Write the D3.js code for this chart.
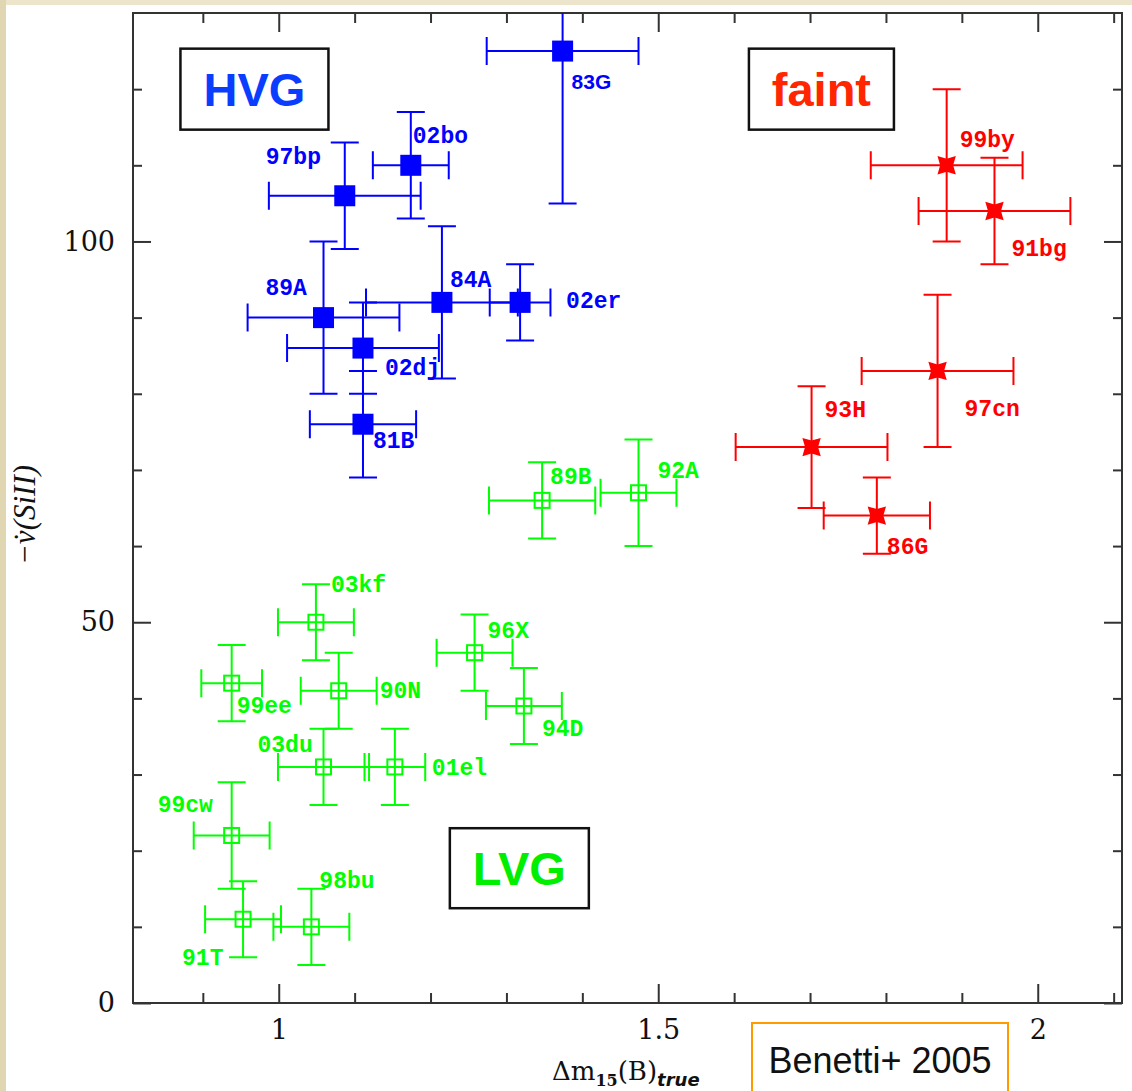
<!DOCTYPE html>
<html>
<head>
<meta charset="utf-8">
<script src="https://cdn.jsdelivr.net/npm/d3@7"></script>
<style>
  html, body { margin: 0; padding: 0; background: #ffffff; }
  svg { display: block; }
  .pt-label { font-family: "Liberation Mono", "DejaVu Sans Mono", monospace; font-weight: bold; font-size: 23px; }
  .tick text { font-family: "DejaVu Serif", serif; font-size: 27px; fill: #111; }
</style>
</head>
<body>
<svg id="chart" width="1132" height="1091"></svg>
<script>
// ---- Data: Si II velocity gradient vs decline rate (Benetti et al. 2005) ----

// High velocity gradient group
const hvgNames  = ["83G", "02bo", "97bp", "89A", "84A", "02er", "02dj", "81B"];
const hvgDm15   = [1.374, 1.174, 1.087, 1.059, 1.215, 1.318, 1.111, 1.111];
const hvgDmErr  = [0.10, 0.05, 0.10, 0.10, 0.10, 0.04, 0.10, 0.07];
const hvgVdot   = [125, 110, 106, 90, 92, 92, 86, 76];
const hvgVErr   = [20, 7, 7, 10, 10, 5, 6, 7];

// Faint group
const faintNames = ["99by", "91bg", "97cn", "93H", "86G"];
const faintDm15  = [1.880, 1.943, 1.868, 1.702, 1.788];
const faintDmErr = [0.10, 0.10, 0.10, 0.10, 0.07];
const faintVdot  = [110, 104, 83, 73, 64];
const faintVErr  = [10, 7, 10, 8, 5];

// Low velocity gradient group
const lvgNames  = ["03kf", "99ee", "90N", "96X", "94D", "03du", "01el", "99cw", "91T", "98bu", "89B", "92A"];
const lvgDm15   = [1.049, 0.938, 1.079, 1.258, 1.323, 1.059, 1.153, 0.938, 0.953, 1.043, 1.347, 1.474];
const lvgDmErr  = [0.05, 0.04, 0.05, 0.05, 0.05, 0.06, 0.04, 0.05, 0.05, 0.05, 0.07, 0.05];
const lvgVdot   = [50, 42, 41, 46, 39, 31, 31, 22, 11, 10, 66, 67];
const lvgVErr   = [5, 5, 5, 5, 5, 5, 5, 7, 5, 5, 5, 7];

// Axis ticks
const xMajorTicks = [1, 1.5, 2];
const xTickLabels = ["1", "1.5", "2"];
const xMinorTicks = [0.9, 1.1, 1.2, 1.3, 1.4, 1.6, 1.7, 1.8, 1.9, 2.1];
const yMajorTicks = [0, 50, 100];
const yTickLabels = ["0", "50", "100"];
const yMinorTicks = [10, 20, 30, 40, 60, 70, 80, 90, 110, 120];

// Group tags (anchored in data space)
const groupTags   = ["HVG", "faint", "LVG"];
const groupTagDm  = [0.968, 1.715, 1.317];
const groupTagV   = [120, 120, 17.7];

// ---- Layout / style ----
const labelOffset = {
  "83G": [9, 38], "02bo": [2, -22], "97bp": [-79, -32], "89A": [-58, -23],
  "84A": [8, -15], "02er": [46, 6], "02dj": [22, 27], "81B": [10, 24],
  "99by": [13, -18], "91bg": [17, 45], "97cn": [27, 45], "93H": [13, -30], "86G": [10, 38],
  "03kf": [15, -30], "99ee": [5, 30], "90N": [41, 7], "96X": [13, -15], "94D": [18, 30],
  "03du": [-66, -15], "01el": [37, 8], "99cw": [-74, -23], "91T": [-61, 46],
  "98bu": [8, -39], "89B": [8, -16], "92A": [19, -15]
};
const tagStyle = {
  HVG:   { color: "#0b3dff", w: 148, h: 81 },
  faint: { color: "#ff2600", w: 145, h: 81 },
  LVG:   { color: "#00ee00", w: 139, h: 80 }
};
const BLUE = "#0000ff", RED = "#ff0000", GREEN = "#00ff00";
const CAP = 14;

const svg = d3.select("#chart");

// page edge tint
svg.append("rect").attr("x", 0).attr("y", 0).attr("width", 1132).attr("height", 5).attr("fill", "#ece5cc");
svg.append("rect").attr("x", 0).attr("y", 0).attr("width", 6).attr("height", 1091).attr("fill", "#e0d6b2");

const plot = { left: 133, right: 1122, top: 13, bottom: 1003 };
const x = d3.scaleLinear().domain([0.808, 2.111]).range([plot.left, plot.right]);
const y = d3.scaleLinear().domain([0, 130]).range([plot.bottom, plot.top]);

svg.append("defs").append("clipPath").attr("id", "plotClip")
  .append("rect")
  .attr("x", plot.left).attr("y", plot.top)
  .attr("width", plot.right - plot.left).attr("height", plot.bottom - plot.top);

// ---- Axes: inward ticks on all four sides ----
function styleAxis(g) {
  g.select(".domain").remove();
  g.selectAll(".tick line").attr("stroke", "#333").attr("stroke-width", 2);
}
svg.append("g").attr("transform", `translate(0,${plot.bottom})`)
  .call(d3.axisBottom(x).tickValues(xMinorTicks).tickSize(-10).tickFormat("")).call(styleAxis);
svg.append("g").attr("transform", `translate(0,${plot.bottom})`)
  .call(d3.axisBottom(x).tickValues(xMajorTicks).tickSize(-19).tickPadding(17)
    .tickFormat((d, i) => xTickLabels[i])).call(styleAxis);
svg.append("g").attr("transform", `translate(0,${plot.top})`)
  .call(d3.axisTop(x).tickValues(xMinorTicks).tickSize(-10).tickFormat("")).call(styleAxis);
svg.append("g").attr("transform", `translate(0,${plot.top})`)
  .call(d3.axisTop(x).tickValues(xMajorTicks).tickSize(-19).tickFormat("")).call(styleAxis);

svg.append("g").attr("transform", `translate(${plot.left},0)`)
  .call(d3.axisLeft(y).tickValues(yMinorTicks).tickSize(-9).tickFormat("")).call(styleAxis);
svg.append("g").attr("transform", `translate(${plot.left},0)`)
  .call(d3.axisLeft(y).tickValues(yMajorTicks).tickSize(-18).tickPadding(18)
    .tickFormat((d, i) => yTickLabels[i])).call(styleAxis);
svg.append("g").attr("transform", `translate(${plot.right},0)`)
  .call(d3.axisRight(y).tickValues(yMinorTicks).tickSize(-9).tickFormat("")).call(styleAxis);
svg.append("g").attr("transform", `translate(${plot.right},0)`)
  .call(d3.axisRight(y).tickValues(yMajorTicks).tickSize(-18).tickFormat("")).call(styleAxis);

// frame
svg.append("rect")
  .attr("x", plot.left).attr("y", plot.top)
  .attr("width", plot.right - plot.left).attr("height", plot.bottom - plot.top)
  .attr("fill", "none").attr("stroke", "#333").attr("stroke-width", 2);

// axis titles
const yTitle = svg.append("text")
  .attr("transform", `translate(35,515) rotate(-90)`)
  .attr("text-anchor", "middle")
  .attr("font-family", "Liberation Serif, serif")
  .attr("font-style", "italic")
  .attr("font-size", 31)
  .attr("fill", "#111");
yTitle.append("tspan").text("\u2212v\u0307(SiII)");

const xTitle = svg.append("text")
  .attr("x", 552).attr("y", 1080)
  .attr("font-family", "DejaVu Serif, serif")
  .attr("font-size", 26)
  .attr("fill", "#111");
xTitle.append("tspan").text("\u0394m");
xTitle.append("tspan").attr("dy", 6).attr("font-size", 16).attr("font-weight", "bold").text("15");
xTitle.append("tspan").attr("dy", -6).text("(B)");
xTitle.append("tspan").attr("dy", 6).attr("font-size", 18).attr("font-style", "italic")
  .attr("font-weight", "bold").attr("font-family", "DejaVu Sans, sans-serif").text("true");

// ---- Data layers ----
const layer = svg.append("g").attr("clip-path", "url(#plotClip)");

function toRows(names, dm, dmErr, v, vErr) {
  return names.map((n, i) => ({ name: n, dm: dm[i], dmErr: dmErr[i], v: v[i], vErr: vErr[i] }));
}

function errorBars(rows, color) {
  const g = layer.append("g").attr("stroke", color).attr("stroke-width", 2).attr("fill", "none");
  rows.forEach(d => {
    const cx = x(d.dm), cy = y(d.v);
    const x0 = x(d.dm - d.dmErr), x1 = x(d.dm + d.dmErr);
    const y0 = y(d.v - d.vErr), y1 = y(d.v + d.vErr);
    g.append("path").attr("d",
      `M${x0},${cy}H${x1}` +
      `M${x0},${cy - CAP}V${cy + CAP}M${x1},${cy - CAP}V${cy + CAP}` +
      `M${cx},${y0}V${y1}` +
      `M${cx - CAP},${y0}H${cx + CAP}M${cx - CAP},${y1}H${cx + CAP}`);
  });
}

function pointLabels(rows, color) {
  svg.append("g").selectAll("text").data(rows).join("text")
    .attr("class", "pt-label")
    .attr("x", d => x(d.dm) + labelOffset[d.name][0])
    .attr("y", d => y(d.v) + labelOffset[d.name][1])
    .attr("fill", color)
    .style("font-family", d => d.name === "83G" ? "Liberation Sans, Arial, sans-serif" : null)
    .style("font-size", d => d.name === "83G" ? "21px" : null)
    .text(d => d.name);
}

const hvg = toRows(hvgNames, hvgDm15, hvgDmErr, hvgVdot, hvgVErr);
const faint = toRows(faintNames, faintDm15, faintDmErr, faintVdot, faintVErr);
const lvg = toRows(lvgNames, lvgDm15, lvgDmErr, lvgVdot, lvgVErr);

errorBars(lvg, GREEN);
errorBars(hvg, BLUE);
errorBars(faint, RED);

// LVG: open squares
layer.append("g").selectAll("rect").data(lvg).join("rect")
  .attr("x", d => x(d.dm) - 7.5).attr("y", d => y(d.v) - 7.5)
  .attr("width", 15).attr("height", 15)
  .attr("fill", "none").attr("stroke", GREEN).attr("stroke-width", 2);

// HVG: filled squares
layer.append("g").selectAll("rect").data(hvg).join("rect")
  .attr("x", d => x(d.dm) - 10.5).attr("y", d => y(d.v) - 10.5)
  .attr("width", 21).attr("height", 21)
  .attr("fill", BLUE);

// faint: four-pointed stars
function star4(rOut, rIn) {
  const pts = [];
  for (let k = 0; k < 8; k++) {
    const a = Math.PI / 4 + k * Math.PI / 4;
    const r = k % 2 === 0 ? rOut : rIn;
    pts.push([r * Math.cos(a), r * Math.sin(a)]);
  }
  return "M" + pts.map(p => p.join(",")).join("L") + "Z";
}
layer.append("g").selectAll("path").data(faint).join("path")
  .attr("transform", d => `translate(${x(d.dm)},${y(d.v)})`)
  .attr("d", star4(13, 6.5))
  .attr("fill", RED);

pointLabels(hvg, BLUE);
pointLabels(faint, RED);
pointLabels(lvg, GREEN);

// group tags
groupTags.forEach((t, i) => {
  const s = tagStyle[t];
  const cx = x(groupTagDm[i]), cy = y(groupTagV[i]);
  svg.append("rect")
    .attr("x", cx - s.w / 2).attr("y", cy - s.h / 2)
    .attr("width", s.w).attr("height", s.h)
    .attr("fill", "#fff").attr("stroke", "#111").attr("stroke-width", 2.5);
  svg.append("text")
    .attr("x", cx).attr("y", cy + 17)
    .attr("text-anchor", "middle")
    .attr("font-family", "Liberation Sans, Arial, sans-serif")
    .attr("font-weight", "bold")
    .attr("font-size", 47)
    .attr("fill", s.color)
    .text(t);
});

// reference note
svg.append("rect")
  .attr("x", 752).attr("y", 1023).attr("width", 256).attr("height", 90)
  .attr("fill", "#fff").attr("stroke", "#ff9a00").attr("stroke-width", 2);
svg.append("text")
  .attr("x", 880).attr("y", 1073)
  .attr("text-anchor", "middle")
  .attr("font-family", "Liberation Sans, Arial, sans-serif")
  .attr("font-size", 36)
  .attr("fill", "#111")
  .text("Benetti+ 2005");
</script>
</body>
</html>
